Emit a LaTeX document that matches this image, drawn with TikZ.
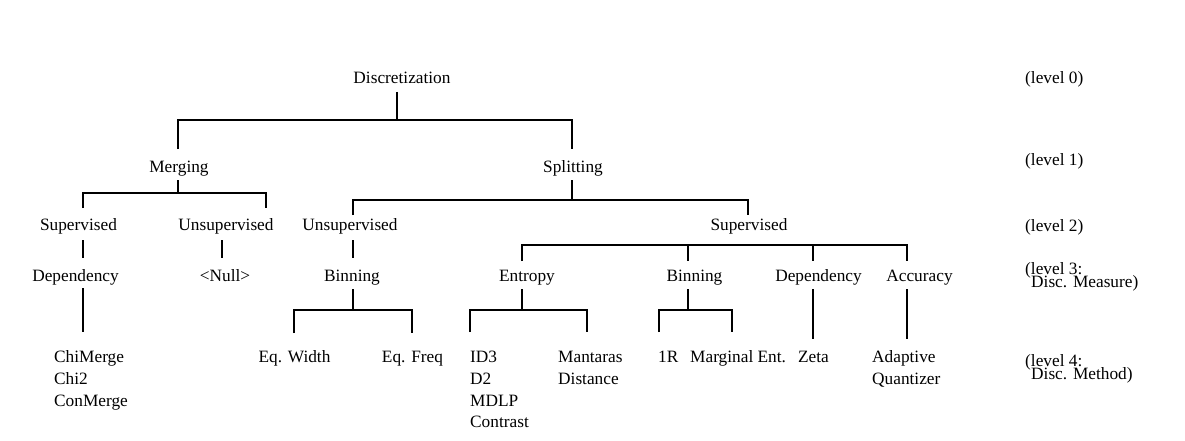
\documentclass[tikz,border=0pt]{standalone}
\usepackage{fontspec}
\setmainfont{Liberation Serif}
\begin{document}
\begin{tikzpicture}[x=1pt,y=-1pt,
  lbl/.style={inner sep=0pt,font=\fontsize{17.3}{20}\selectfont,anchor=base},
  lbll/.style={lbl,anchor=base west},
  edge/.style={line width=1.1pt,black}]
\useasboundingbox[fill=white] (0,0) rectangle (1185,441);
% level 0
\node[lbl] (disc) at (402,84) {Discretization};
% level 1
\node[lbl] (merg) at (179,172) {Merging};
\node[lbl] (split) at (573,172) {Splitting};
% level 2
\node[lbl] (msup) at (78.5,230) {Supervised};
\node[lbl] (munsup) at (226,230) {Unsupervised};
\node[lbl] (sunsup) at (350,230) {Unsupervised};
\node[lbl] (ssup) at (749,230) {Supervised};
% level 3
\node[lbl] (mdep) at (75.5,281) {Dependency};
\node[lbl] (null) at (225,281) {<Null>};
\node[lbl] (ubin) at (352,281) {Binning};
\node[lbl] (ent) at (527,281) {Entropy};
\node[lbl] (sbin) at (694.5,281) {Binning};
\node[lbl] (sdep) at (818.5,281) {Dependency};
\node[lbl] (acc) at (919.5,281) {Accuracy};
% level 4
\node[lbll] (chim) at (54,362) {ChiMerge};
\node[lbll] (chi2) at (54,384) {Chi2};
\node[lbll] (conm) at (54,406) {ConMerge};
\node[lbl] (eqw) at (294.5,362) {Eq. Width};
\node[lbl] (eqf) at (412.5,362) {Eq. Freq};
\node[lbll] (id3) at (470,362) {ID3};
\node[lbll] (d2) at (470,384) {D2};
\node[lbll] (mdlp) at (470,406) {MDLP};
\node[lbll] (contr) at (470,427) {Contrast};
\node[lbll] (mant) at (558,362) {Mantaras};
\node[lbll] (dist) at (558,384) {Distance};
\node[lbll] (oner) at (658,362) {1R};
\node[lbll] (marg) at (690,362) {Marginal Ent.};
\node[lbl] (zeta) at (813.5,362) {Zeta};
\node[lbll] (adap) at (872,362) {Adaptive};
\node[lbll] (quan) at (872,384) {Quantizer};
% level labels
\node[lbll] (lv0) at (1025,84) {(level 0)};
\node[lbll] (lv1) at (1025,165) {(level 1)};
\node[lbll] (lv2) at (1025,231) {(level 2)};
\node[lbll] (lv3a) at (1025,274) {(level 3:};
\node[lbll] (lv3b) at (1031,287) {Disc. Measure)};
\node[lbll] (lv4a) at (1025,366) {(level 4:};
\node[lbll] (lv4b) at (1031,379) {Disc. Method)};
% connectors
\draw[edge] (397,92) -- (397,120);
\draw[edge] (178,149) -- (178,120) -- (572,120) -- (572,149);
\draw[edge] (178,180) -- (178,193);
\draw[edge] (83,208) -- (83,193) -- (266,193) -- (266,208);
\draw[edge] (572,180) -- (572,200);
\draw[edge] (353,215) -- (353,200) -- (748,200) -- (748,215);
\draw[edge] (83,240) -- (83,258);
\draw[edge] (222,240) -- (222,258);
\draw[edge] (353,240) -- (353,258);
\draw[edge] (522,261) -- (522,245) -- (907,245) -- (907,261);
\draw[edge] (688,245) -- (688,261);
\draw[edge] (813,245) -- (813,261);
\draw[edge] (83,288) -- (83,332);
\draw[edge] (353,289) -- (353,310);
\draw[edge] (294,333) -- (294,310) -- (412,310) -- (412,333);
\draw[edge] (522,289) -- (522,310);
\draw[edge] (470,332) -- (470,310) -- (587,310) -- (587,332);
\draw[edge] (688,289) -- (688,310);
\draw[edge] (659,332) -- (659,310) -- (732,310) -- (732,332);
\draw[edge] (813,289) -- (813,339);
\draw[edge] (907,289) -- (907,339);
\end{tikzpicture}
\end{document}
